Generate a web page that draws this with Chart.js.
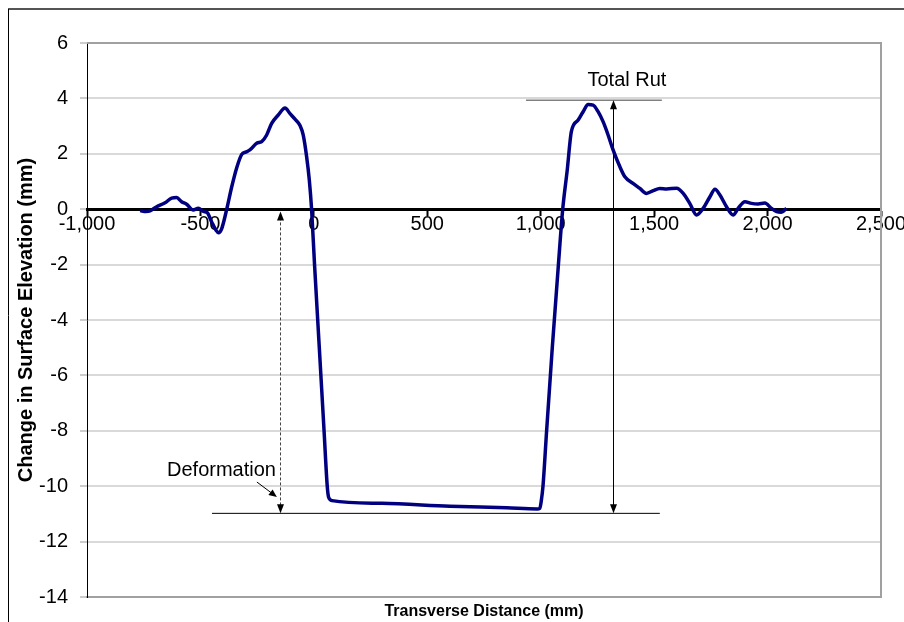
<!DOCTYPE html>
<html><head><meta charset="utf-8">
<script src="https://cdn.jsdelivr.net/npm/chart.js@4"></script>
<style>html,body{margin:0;padding:0;background:#fff;}#wrap{width:904px;height:622px;position:relative;}</style>
</head><body><div id="wrap"><canvas id="c" width="904" height="622"></canvas></div>
<script>
// Transverse distance (mm)
const distance = [-766,-740,-722,-693,-656,-627,-605,-583,-561,-532,-509,-487,-470,-451,-432,-420,-407,-384,-362,-340,-318,-300,-282,-252,-230,-208,-186,-157,-127,-105,-83,-61,-47,-32,-20,-10,3,24,45,59,65,80,300,600,850,985,996,1003,1010,1026,1051,1078,1097,1117,1135,1165,1187,1209,1231,1253,1275,1297,1319,1349,1371,1407,1437,1466,1496,1525,1555,1599,1628,1657,1687,1716,1746,1768,1790,1819,1848,1870,1900,1929,1958,1988,2017,2040,2061,2083];
// Change in surface elevation (mm)
const elevation = [-0.05,-0.08,-0.06,0.09,0.23,0.40,0.42,0.27,0.18,-0.03,0.03,-0.08,-0.12,-0.45,-0.75,-0.85,-0.72,0.0,0.81,1.50,1.98,2.06,2.14,2.38,2.44,2.68,3.10,3.40,3.65,3.45,3.25,3.02,2.68,1.90,1.05,0.0,-2.0,-5.0,-8.0,-10.0,-10.4,-10.52,-10.62,-10.72,-10.78,-10.82,-10.8,-10.5,-10.0,-8.0,-5.0,-2.0,0.0,1.42,2.80,3.22,3.52,3.78,3.76,3.52,3.16,2.68,2.14,1.53,1.17,0.93,0.75,0.57,0.67,0.75,0.73,0.76,0.57,0.21,-0.21,0.03,0.45,0.72,0.51,0.09,-0.21,0.03,0.27,0.21,0.19,0.22,0.03,-0.09,-0.11,0.03];
const xRange = [-1000, 2500];
const yRange = [-14, 6];
// Annotation geometry in data units
const rutTopLine = [935, 1534, 3.93];        // x1, x2, y
const rutBottomLine = [-449, 1525, -10.98];  // x1, x2, y
const totalRutArrowX = 1318;
const deformationArrowX = -149;
const deformationArrowTop = -0.08;
const deformationPointer = [-251, -9.85, -163, -10.39];
const totalRutLabel = ['Total Rut', 1380, 4.63];
const deformationLabel = ['Deformation', -167, -9.42];

const FONT = 'Arial, "Liberation Sans", sans-serif';

function arrowHead(ctx, x, y, dx, dy, len, hw) {
  const px = -dy, py = dx;
  ctx.beginPath();
  ctx.moveTo(x, y);
  ctx.lineTo(x - dx*len + px*hw, y - dy*len + py*hw);
  ctx.lineTo(x - dx*len - px*hw, y - dy*len - py*hw);
  ctx.closePath();
  ctx.fill();
}

const annot = {
  id: 'annot',
  beforeDraw(chart) {
    const ctx = chart.ctx;
    ctx.save();
    ctx.strokeStyle = '#555';
    ctx.lineWidth = 2;
    ctx.beginPath(); ctx.moveTo(8, 9); ctx.lineTo(904, 9); ctx.stroke();
    ctx.strokeStyle = '#000';
    ctx.lineWidth = 1;
    ctx.beginPath(); ctx.moveTo(8.5, 9); ctx.lineTo(8.5, 622); ctx.stroke();
    ctx.restore();
  },
  beforeDatasetsDraw(chart) {
    const ctx = chart.ctx, a = chart.chartArea;
    ctx.save();
    ctx.strokeStyle = '#a0a0a0';
    ctx.lineWidth = 2;
    ctx.beginPath();
    ctx.moveTo(a.left, a.top); ctx.lineTo(a.right, a.top); ctx.lineTo(a.right, a.bottom);
    ctx.stroke();
    ctx.restore();
  },
  afterDatasetsDraw(chart) {
    const ctx = chart.ctx, xs = chart.scales.x, ys = chart.scales.y;
    const X = v => xs.getPixelForValue(v), Y = v => ys.getPixelForValue(v);
    ctx.save();
    ctx.strokeStyle = '#808080'; ctx.lineWidth = 1.5;
    ctx.beginPath(); ctx.moveTo(X(rutTopLine[0]), Y(rutTopLine[2])); ctx.lineTo(X(rutTopLine[1]), Y(rutTopLine[2])); ctx.stroke();
    ctx.strokeStyle = '#000'; ctx.lineWidth = 1;
    ctx.beginPath(); ctx.moveTo(X(rutBottomLine[0]), Y(rutBottomLine[2])); ctx.lineTo(X(rutBottomLine[1]), Y(rutBottomLine[2])); ctx.stroke();
    const tx = Math.round(X(totalRutArrowX)) + 0.5;
    const t1 = Y(rutTopLine[2]), t2 = Y(rutBottomLine[2]);
    ctx.beginPath(); ctx.moveTo(tx, t1 + 6); ctx.lineTo(tx, t2 - 6); ctx.stroke();
    ctx.fillStyle = '#000';
    arrowHead(ctx, tx, t1, 0, -1, 9, 3.5);
    arrowHead(ctx, tx, t2, 0, 1, 9, 3.5);
    const dx = Math.round(X(deformationArrowX)) + 0.5;
    const d1 = Y(deformationArrowTop);
    ctx.strokeStyle = '#444'; ctx.setLineDash([3, 2]);
    ctx.beginPath(); ctx.moveTo(dx, d1 + 6); ctx.lineTo(dx, t2 - 6); ctx.stroke();
    ctx.setLineDash([]);
    arrowHead(ctx, dx, d1, 0, -1, 9, 3.5);
    arrowHead(ctx, dx, t2, 0, 1, 9, 3.5);
    const p = deformationPointer;
    const px1 = X(p[0]), py1 = Y(p[1]), px2 = X(p[2]), py2 = Y(p[3]);
    const L = Math.hypot(px2 - px1, py2 - py1), ux = (px2 - px1) / L, uy = (py2 - py1) / L;
    ctx.strokeStyle = '#000';
    ctx.beginPath(); ctx.moveTo(px1, py1); ctx.lineTo(px2 - ux*5, py2 - uy*5); ctx.stroke();
    arrowHead(ctx, px2, py2, ux, uy, 8, 3.5);
    ctx.font = '20px ' + FONT;
    ctx.fillStyle = '#000';
    ctx.textBaseline = 'middle';
    ctx.textAlign = 'center';
    ctx.fillText(totalRutLabel[0], X(totalRutLabel[1]), Y(totalRutLabel[2]));
    ctx.textAlign = 'right';
    ctx.fillText(deformationLabel[0], X(deformationLabel[1]), Y(deformationLabel[2]));
    ctx.restore();
  }
};

new Chart(document.getElementById('c'), {
  type: 'line',
  data: {
    datasets: [{
      data: distance.map((x, i) => ({x: x, y: elevation[i]})),
      borderColor: '#000080',
      borderWidth: 3.5,
      pointRadius: 0,
      fill: false,
      cubicInterpolationMode: 'monotone',
      xAxisID: 'x', yAxisID: 'y'
    }]
  },
  options: {
    responsive: false,
    animation: false,
    devicePixelRatio: 1,
    layout: { padding: { left: 0, top: 43, right: 23, bottom: 0 } },
    plugins: { legend: { display: false }, tooltip: { enabled: false } },
    scales: {
      x: {
        type: 'linear', min: xRange[0], max: xRange[1],
        position: { y: 0 },
        ticks: { stepSize: 500, color: '#000', padding: 0, maxRotation: 0,
          font: { family: FONT, size: 20, lineHeight: 1 },
          callback: v => v.toLocaleString('en-US') },
        grid: { drawOnChartArea: false, drawTicks: true, tickLength: 5, tickColor: '#000', tickWidth: 2 },
        border: { display: true, color: '#000', width: 3 },
        afterFit: s => { s.height = 0; s.paddingLeft = 0; s.paddingRight = 0; }
      },
      xb: {
        type: 'linear', min: xRange[0], max: xRange[1],
        position: 'bottom',
        ticks: { display: false },
        grid: { display: false, drawTicks: false },
        border: { display: true, color: '#a0a0a0', width: 2 },
        title: { display: true, text: 'Transverse Distance (mm)', color: '#000',
          font: { family: FONT, size: 16, weight: 'bold', lineHeight: 1.2 }, padding: { top: 0, bottom: 1 } },
        afterFit: s => { s.height = 25; s.paddingLeft = 0; s.paddingRight = 0; }
      },
      y: {
        type: 'linear', min: yRange[0], max: yRange[1],
        position: 'left',
        ticks: { stepSize: 2, color: '#000', padding: 12, font: { family: FONT, size: 20 } },
        grid: { color: '#d9d9d9', lineWidth: 2, drawTicks: true, tickLength: 7, tickColor: '#999', tickWidth: 1 },
        border: { display: true, color: '#000', width: 1 },
        title: { display: true, text: 'Change in Surface Elevation (mm)', color: '#000',
          font: { family: FONT, size: 20, weight: 'bold', lineHeight: 1.2 }, padding: { top: 14, bottom: 0 } },
        afterFit: s => { s.width = 87; }
      }
    }
  },
  plugins: [annot]
});
</script>
</body></html>
